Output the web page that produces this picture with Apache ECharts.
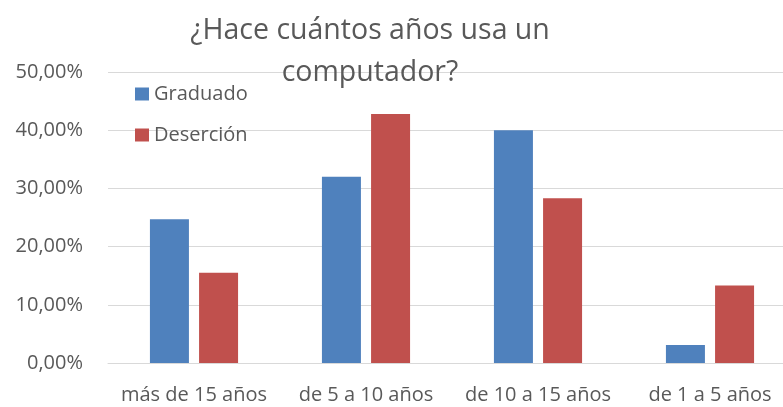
<!DOCTYPE html>
<html>
<head>
<meta charset="utf-8">
<script src="https://cdn.jsdelivr.net/npm/echarts@6/dist/echarts.min.js"></script>
<style>
  html, body { margin: 0; padding: 0; background: #fff; overflow: hidden; }
  /* the plot area runs a little past the right edge of the picture */
  #chart { width: 800px; height: 407px; }
</style>
</head>
<body>
<div id="chart"></div>
<script>
const categories = ['más de 15 años', 'de 5 a 10 años', 'de 10 a 15 años', 'de 1 a 5 años']
const graduado = [24.7, 32.0, 40.0, 3.1]
const desercion = [15.5, 42.8, 28.3, 13.3]

const textColor = '#595959'
const font = '"Open Sans", sans-serif'

const chart = echarts.init(document.getElementById('chart'), null, { renderer: 'canvas' })

chart.setOption({
  backgroundColor: '#fff',
  animation: false,
  title: {
    text: '¿Hace cuántos años usa un\ncomputador?',
    left: 365,
    top: 5,
    textAlign: 'center',
    textStyle: { color: textColor, fontFamily: font, fontSize: 28.5, fontWeight: 'normal', lineHeight: 42 },
  },
  legend: {
    orient: 'vertical',
    left: 130,
    top: 79,
    itemWidth: 14,
    itemHeight: 13,
    itemGap: 21,
    icon: 'rect',
    textStyle: { color: textColor, fontFamily: font, fontSize: 20 },
  },
  grid: { left: 108, right: 4, top: 72, bottom: 44 },
  xAxis: {
    type: 'category',
    data: categories,
    axisLine: { lineStyle: { color: '#d9d9d9', width: 1 } },
    axisTick: { show: false },
    axisLabel: { color: textColor, fontFamily: font, fontSize: 20, margin: 22, interval: 0 },
  },
  yAxis: {
    type: 'value',
    min: 0,
    max: 50,
    interval: 10,
    axisLine: { show: false },
    axisTick: { show: false },
    splitLine: { lineStyle: { color: '#d9d9d9', width: 1 } },
    axisLabel: {
      color: textColor,
      fontFamily: font,
      fontSize: 20,
      margin: 25,
      formatter: (v) => v.toFixed(2).replace('.', ',') + '%',
    },
  },
  series: [
    {
      name: 'Graduado',
      type: 'bar',
      data: graduado,
      barWidth: 39,
      barGap: '26%',
      itemStyle: { color: '#4f81bd' },
    },
    {
      name: 'Deserción',
      type: 'bar',
      data: desercion,
      barWidth: 39,
      barGap: '26%',
      itemStyle: { color: '#c0504d' },
    },
  ],
})
</script>
</body>
</html>
